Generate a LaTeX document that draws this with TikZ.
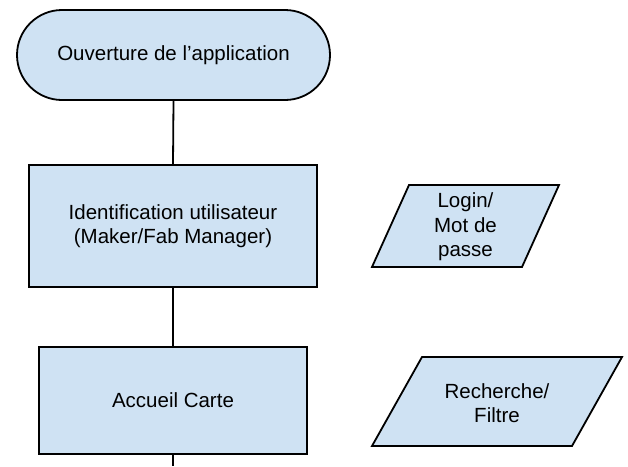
\documentclass[tikz,border=0pt]{standalone}
\usepackage{fontspec}
\setmainfont{Liberation Sans}
\definecolor{boxblue}{HTML}{CFE2F3}
\begin{document}
\begin{tikzpicture}[x=1pt,y=-1pt,
  every node/.style={font=\fontsize{20.5}{24.5}\selectfont, align=center, inner sep=0pt},
  shapeline/.style={draw=black, line width=1.8pt, fill=boxblue},
  procbox/.style={shapeline, rectangle},
  termbox/.style={shapeline, rectangle, rounded corners=45pt},
  link/.style={draw=black, line width=1.8pt}]
\useasboundingbox (0,0) rectangle (628,466);
% terminal
\node[termbox, minimum width=313pt, minimum height=90pt] (start) at (173.5,55) {Ouverture de l’application};
% process boxes
\node[procbox, minimum width=288pt, minimum height=122pt] (ident) at (173,226) {Identification utilisateur\\(Maker/Fab Manager)};
\node[procbox, minimum width=268pt, minimum height=107pt] (carte) at (173,400.5) {Accueil Carte};
% data parallelograms
\draw[shapeline] (409,185) -- (559,185) -- (522,267) -- (372,267) -- cycle;
\node (login) at (465.5,227) {Login/\\Mot de\\passe};
\draw[shapeline] (422,357) -- (622,357) -- (572,446) -- (372,446) -- cycle;
\node (filtre) at (497,403) {Recherche/\\Filtre};
% connectors
\coordinate (bottomend) at (173,466);
\draw[link] (start.south) -- (ident.north);
\draw[link] (ident.south) -- (carte.north);
\draw[link] (carte.south) -- (bottomend);
\end{tikzpicture}
\end{document}
